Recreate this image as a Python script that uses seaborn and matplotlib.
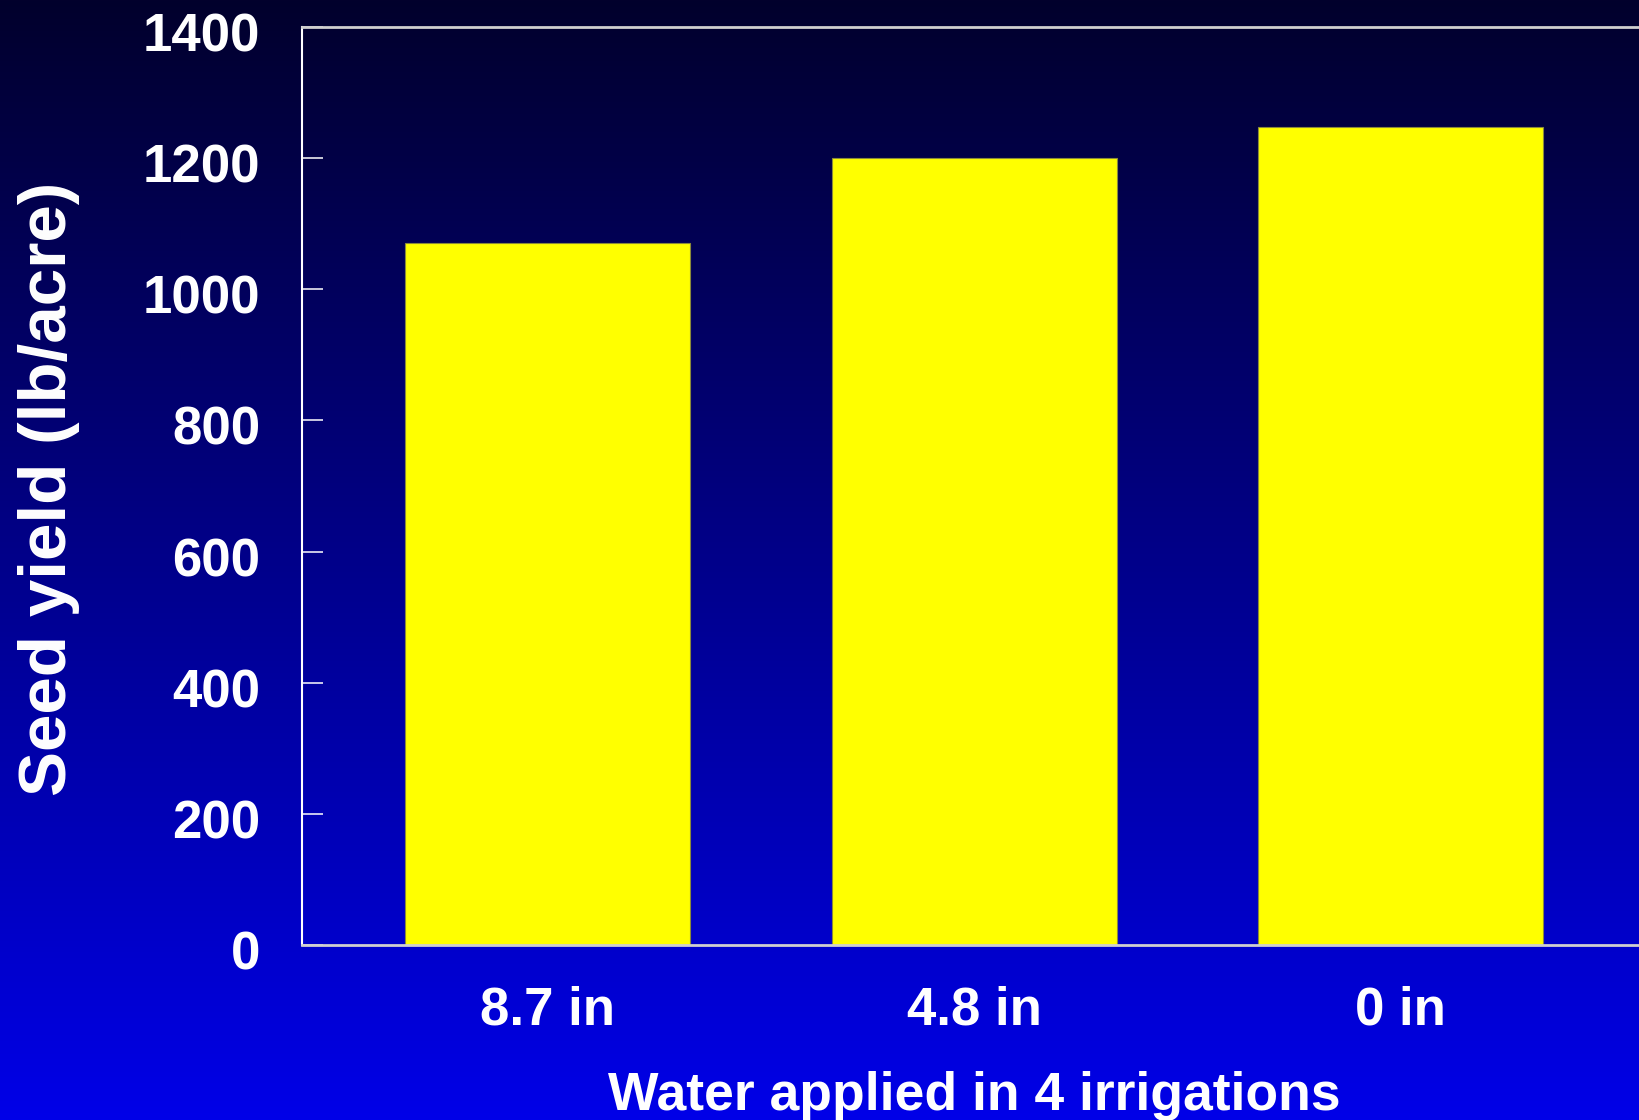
import numpy as np
import pandas as pd
import matplotlib
matplotlib.use("Agg")
import matplotlib.pyplot as plt
import matplotlib.transforms as mtransforms
import seaborn as sns

# ---- data ----
categories = ["8.7 in", "4.8 in", "0 in"]
seed_yield = [1070, 1200, 1247]
y_ticks = [0, 200, 400, 600, 800, 1000, 1200, 1400]
x_title = "Water applied in 4 irrigations"
y_title = "Seed yield (lb/acre)"

df = pd.DataFrame({"water": categories, "yield": seed_yield})

sns.set_style("ticks")
plt.rcParams["font.family"] = ["Liberation Sans", "DejaVu Sans"]
plt.rcParams["font.weight"] = "bold"

fig = plt.figure(figsize=(16.4, 11.2), dpi=100)

# gradient background
bg = fig.add_axes([0, 0, 1, 1], zorder=-10)
grad = np.linspace(0, 1, 512).reshape(-1, 1)
top = np.array([0x02, 0x00, 0x2C]) / 255.0
bot = np.array([0x00, 0x00, 0xE8]) / 255.0
img = top[None, None, :] * (1 - grad[:, :, None]) + bot[None, None, :] * grad[:, :, None]
bg.imshow(img, aspect="auto", extent=[0, 1, 0, 1], origin="upper")
bg.set_axis_off()

ax = fig.add_axes([301.7 / 1640, 175 / 1120, 1 - 301.7 / 1640 + 0.01, 918 / 1120])
ax.set_facecolor("none")

sns.barplot(data=df, x="water", y="yield", color="#FFFF00", saturation=1,
            width=0.668, edgecolor="#8a8a3a", linewidth=0.8, ax=ax)

ax.set_ylim(0, 1400)
ax.set_xlim(-0.577, 2.561 + 0.01 * 1640 / 426.5)
ax.set_yticks(y_ticks)
ax.set_yticklabels([str(v) for v in y_ticks])

for s in ["left"]:
    ax.spines[s].set_color("white")
    ax.spines[s].set_linewidth(1.5)
for s in ["top", "bottom"]:
    ax.spines[s].set_color("#CFCFCF")
    ax.spines[s].set_linewidth(2)
ax.spines["right"].set_visible(False)

ax.tick_params(axis="y", direction="in", length=15, width=1.1, color="white",
               labelcolor="white", labelsize=38, pad=30)
ax.tick_params(axis="x", length=0, labelcolor="white", labelsize=38, pad=29)
for lab in ax.get_yticklabels() + ax.get_xticklabels():
    lab.set_fontweight("bold")

offset = mtransforms.ScaledTranslation(0, -5 / 100, fig.dpi_scale_trans)
for lab in ax.get_yticklabels():
    lab.set_transform(lab.get_transform() + offset)

ax.set_xlabel(x_title, color="white", fontsize=38.5, fontweight="bold")
ax.set_ylabel(y_title, color="white", fontsize=48.5, fontweight="bold")
ax.xaxis.set_label_coords(974 / 1640, 10 / 1120, transform=fig.transFigure)
ax.xaxis.label.set_va("baseline")
ax.yaxis.set_label_coords(49 / 1640, (1120 - 489) / 1120, transform=fig.transFigure)
ax.yaxis.label.set_va("center")

fig.savefig("out.png", dpi=100)
